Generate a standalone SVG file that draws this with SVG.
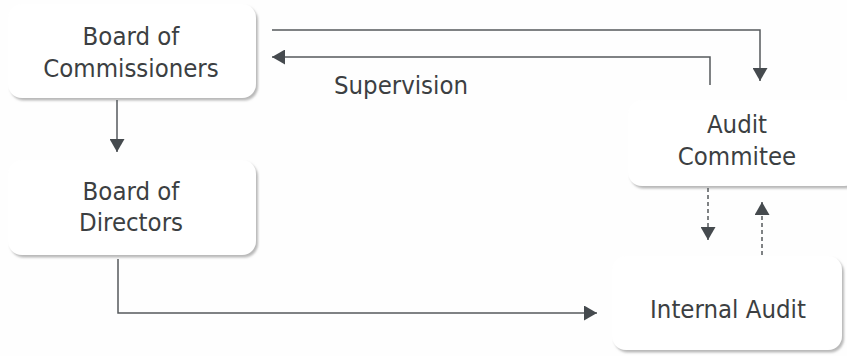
<svg xmlns="http://www.w3.org/2000/svg" width="847" height="356" viewBox="0 0 847 356">
  <defs>
    <filter id="sh" x="-5%" y="-5%" width="115%" height="125%">
      <feDropShadow dx="2" dy="2.5" stdDeviation="1" flood-color="#9a9a9a" flood-opacity="0.7"/>
    </filter>
    <marker id="ah" viewBox="0 0 13 15" refX="13" refY="7.5" markerWidth="13" markerHeight="15" markerUnits="userSpaceOnUse" orient="auto">
      <path d="M0,0 L13,7.5 L0,15 Z" fill="#454a4e"/>
    </marker>
  </defs>
  <style>
    .box { fill: #ffffff; filter: url(#sh); }
    .lbl { font-family: "DejaVu Sans Condensed", "DejaVu Sans", sans-serif; font-size: 25.5px; fill: #3c3f42; text-anchor: middle; }
    .ln { fill: none; stroke: #55595c; stroke-width: 1.5; }
    .dash { stroke-dasharray: 4 3; }
  </style>
  <rect width="847" height="356" fill="#fefefe"/>
  <g id="board-of-commissioners">
    <rect class="box" x="8" y="4" width="248" height="94" rx="14"/>
    <text class="lbl" x="131" y="45">Board of</text>
    <text class="lbl" x="131" y="77">Commissioners</text>
  </g>
  <g id="board-of-directors">
    <rect class="box" x="8" y="160" width="248" height="95" rx="14"/>
    <text class="lbl" x="131" y="200">Board of</text>
    <text class="lbl" x="131" y="231">Directors</text>
  </g>
  <g id="audit-commitee">
    <rect class="box" x="628" y="100" width="230" height="86" rx="14"/>
    <text class="lbl" x="737" y="133">Audit</text>
    <text class="lbl" x="737" y="165">Commitee</text>
  </g>
  <g id="internal-audit">
    <rect class="box" x="612" y="256" width="230" height="94" rx="14"/>
    <text class="lbl" x="728" y="318">Internal Audit</text>
  </g>
  <g id="connectors">
    <path class="ln" d="M117,100 V152" marker-end="url(#ah)"/>
    <path class="ln" d="M118,259 V313 H597" marker-end="url(#ah)"/>
    <path class="ln" d="M272,30 H760 V81" marker-end="url(#ah)"/>
    <path class="ln" d="M710,85 V57 H272" marker-end="url(#ah)"/>
    <path class="ln dash" d="M708,188 V240" marker-end="url(#ah)"/>
    <path class="ln dash" d="M762,255 V202" marker-end="url(#ah)"/>
    <text class="lbl" x="401" y="94">Supervision</text>
  </g>
</svg>
